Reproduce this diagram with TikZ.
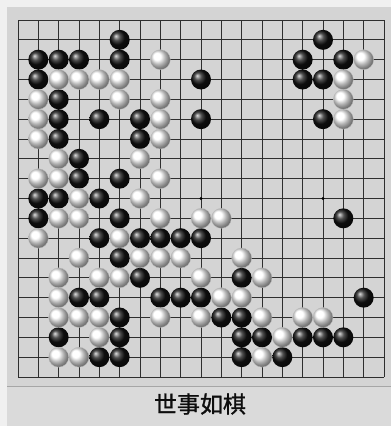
\documentclass[tikz,border=0pt]{standalone}
\usepackage{fontspec}
\newfontfamily\cjk[FakeBold=1.2]{Noto Sans CJK SC}
\definecolor{pagebg}{HTML}{F0F0F0}
\definecolor{boardbg}{HTML}{D4D4D4}
\definecolor{capbg}{HTML}{DADADA}
\tikzset{
  gridline/.style={draw=black!82, line width=0.7pt},
  bstone/.style={circle, minimum size=20pt, inner sep=0pt, shading=ball, ball color=black!92},
  wstone/.style={circle, minimum size=20pt, inner sep=0pt, shading=ball, ball color=white, draw=black!25, line width=0.3pt},
  starpt/.style={circle, fill=black, minimum size=3.2pt, inner sep=0pt},
  caption/.style={font=\cjk\fontsize{23}{23}\selectfont, text=black!95, inner sep=0pt}
}
\begin{document}
\begin{tikzpicture}[x=1pt,y=-1pt]
\useasboundingbox (0,0) rectangle (391,426);
\fill[pagebg] (0,0) rectangle (391,426);
\fill[boardbg] (7,7) rectangle (391,386);
\fill[capbg] (7,386) rectangle (391,426);
\draw[black!35, line width=0.4pt] (7,386) -- (391,386);
% grid
\foreach \i in {0,...,18}{
  \draw[gridline] ({18+\i*20.333},20) -- ({18+\i*20.333},377);
  \draw[gridline] (18,{20+\i*19.833}) -- (384,{20+\i*19.833});
}
% star points
\foreach \r in {4,10,16}{
  \foreach \c in {4,10,16}{
    \node[starpt] (s\r-\c) at ({18+(\c-1)*20.333},{20+(\r-1)*19.833}) {};
  }
}
% black stones
\foreach \r/\c in {2/6,2/16,
  3/2,3/3,3/4,3/6,3/15,3/17,
  4/2,4/10,4/15,4/16,
  5/3,
  6/3,6/5,6/7,6/10,6/16,
  7/3,7/7,
  8/4,
  9/4,9/6,
  10/2,10/3,10/5,
  11/2,11/6,11/17,
  12/5,12/7,12/8,12/9,12/10,
  13/6,
  14/7,14/12,
  15/4,15/5,15/8,15/9,15/10,15/18,
  16/6,16/11,16/12,
  17/3,17/6,17/12,17/13,17/15,17/16,17/17,
  18/5,18/6,18/12,18/14}{
  \node[bstone] (b\r-\c) at ({18+(\c-1)*20.333},{20+(\r-1)*19.833}) {};
}
% white stones
\foreach \r/\c in {3/8,3/18,
  4/3,4/4,4/5,4/6,4/17,
  5/2,5/6,5/8,5/17,
  6/2,6/8,6/17,
  7/2,7/8,
  8/3,8/7,
  9/2,9/3,9/8,
  10/4,10/7,
  11/3,11/4,11/8,11/10,11/11,
  12/2,12/6,
  13/4,13/7,13/8,13/9,13/12,
  14/3,14/5,14/6,14/10,14/13,
  15/3,15/11,15/12,
  16/3,16/4,16/5,16/8,16/10,16/13,16/15,16/16,
  17/5,17/14,
  18/3,18/4,18/13}{
  \node[wstone] (w\r-\c) at ({18+(\c-1)*20.333},{20+(\r-1)*19.833}) {};
}
\node[caption] (cap) at (200,404) {世事如棋};
\end{tikzpicture}
\end{document}
